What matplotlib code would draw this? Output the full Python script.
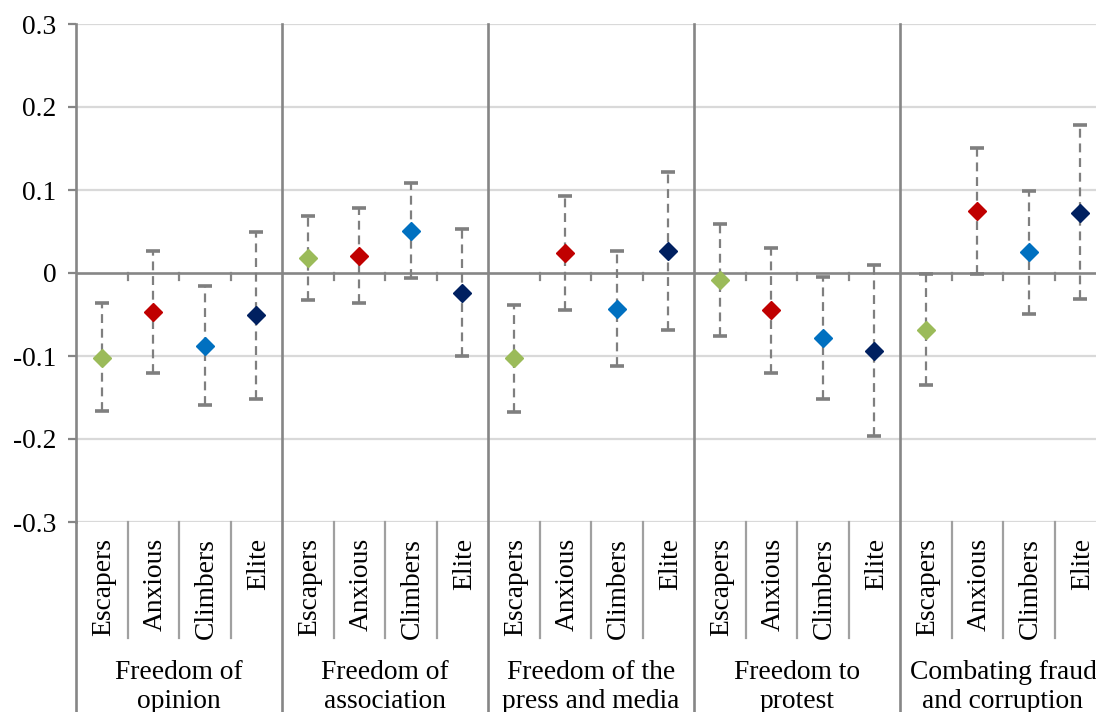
import numpy as np
import matplotlib.pyplot as plt
from matplotlib.lines import Line2D

groups = ["Freedom of\nopinion", "Freedom of\nassociation", "Freedom of the\npress and media",
          "Freedom to\nprotest", "Combating fraud\nand corruption"]
segments = ["Escapers", "Anxious", "Climbers", "Elite"]
colors = ["#9BBB59", "#C00000", "#0070C0", "#002060"]

# point estimates, one list per group (Escapers, Anxious, Climbers, Elite)
estimate = [
    [-0.102, -0.047, -0.088, -0.051],
    [0.018, 0.021, 0.051, -0.024],
    [-0.103, 0.024, -0.043, 0.027],
    [-0.008, -0.045, -0.078, -0.094],
    [-0.069, 0.075, 0.025, 0.072],
]
upper = [
    [-0.036, 0.027, -0.016, 0.050],
    [0.069, 0.078, 0.109, 0.053],
    [-0.038, 0.093, 0.026, 0.122],
    [0.059, 0.030, -0.005, 0.010],
    [-0.001, 0.151, 0.099, 0.178],
]
lower = [
    [-0.166, -0.120, -0.159, -0.152],
    [-0.033, -0.036, -0.006, -0.100],
    [-0.167, -0.044, -0.112, -0.069],
    [-0.076, -0.121, -0.152, -0.196],
    [-0.135, -0.001, -0.049, -0.031],
]

W, H = 1096, 712
plt.rcParams['font.family'] = ['Liberation Serif', 'DejaVu Serif']
fig = plt.figure(figsize=(W / 100, H / 100), dpi=100)
ax = fig.add_axes([76 / W, 1 - 522 / H, 1030 / W, 498 / H])

n_seg = len(segments)
n = len(groups) * n_seg
grid_c = "#D9D9D9"
axis_c = "#868686"
fs = 19.8

ax.set_xlim(-0.5, n - 0.5)
ax.set_ylim(-0.3, 0.3)
for yv in np.arange(-0.3, 0.31, 0.1):
    if abs(yv) > 1e-9:
        ax.axhline(yv, color=grid_c, lw=1.6, zorder=0)
ax.axhline(0, color=axis_c, lw=1.9, zorder=1)

# small ticks on the zero line at category boundaries
for k in range(n - 1):
    if (k + 1) % n_seg != 0:
        ax.plot([k + 0.5, k + 0.5], [0, -0.0085], color=axis_c, lw=1.6, zorder=1)

for g in range(len(groups)):
    for s in range(n_seg):
        x = g * n_seg + s
        est = estimate[g][s]
        err = [[est - lower[g][s]], [upper[g][s] - est]]
        eb = ax.errorbar([x], [est], yerr=err, fmt='none', ecolor="#7F7F7F",
                         elinewidth=1.6, capsize=5, capthick=2.6, zorder=2)
        eb[2][0].set_linestyle((0, (4, 2.6)))
        ax.plot([x], [est], marker='D', ms=9.4, color=colors[s], mec=colors[s],
                linestyle='none', zorder=3)

for side in ["top", "right", "bottom"]:
    ax.spines[side].set_visible(False)
ax.spines["left"].set_color(axis_c)
ax.spines["left"].set_linewidth(1.9)
ax.set_xticks([])
ax.set_yticks([-0.3, -0.2, -0.1, 0, 0.1, 0.2, 0.3])
ax.set_yticklabels(["-0.3", "-0.2", "-0.1", "0", "0.1", "0.2", "0.3"], fontsize=fs)
ax.tick_params(axis='y', length=6, width=1.6, color=axis_c, pad=8)

# separators and labels below the plot, in figure pixels
def fx(xd):
    return (ax.transData.transform((xd, 0))[0]) / W

def fy(py):
    return 1 - py / H

# left axis and group separators run to the bottom edge
fig.add_artist(Line2D([76 / W, 76 / W], [fy(522), 0], color=axis_c, lw=1.9))
for g in range(1, len(groups)):
    xb = fx(g * n_seg - 0.5)
    fig.add_artist(Line2D([xb, xb], [fy(24), 0], color=axis_c, lw=1.9, zorder=5))
for k in range(n - 1):
    if (k + 1) % n_seg != 0:
        xb = fx(k + 0.5)
        fig.add_artist(Line2D([xb, xb], [fy(522), fy(638)], color="#A0A0A0", lw=1.6))

for k in range(n):
    fig.text(fx(k) + 2 / W, fy(538), segments[k % n_seg], rotation=90, ha='center', va='top',
             fontsize=fs)

for g, name in enumerate(groups):
    xc = fx(g * n_seg + (n_seg - 1) / 2)
    fig.text(xc, fy(660), name, ha='center', va='top', fontsize=fs, linespacing=1.22)

fig.savefig("out.png", dpi=100)
